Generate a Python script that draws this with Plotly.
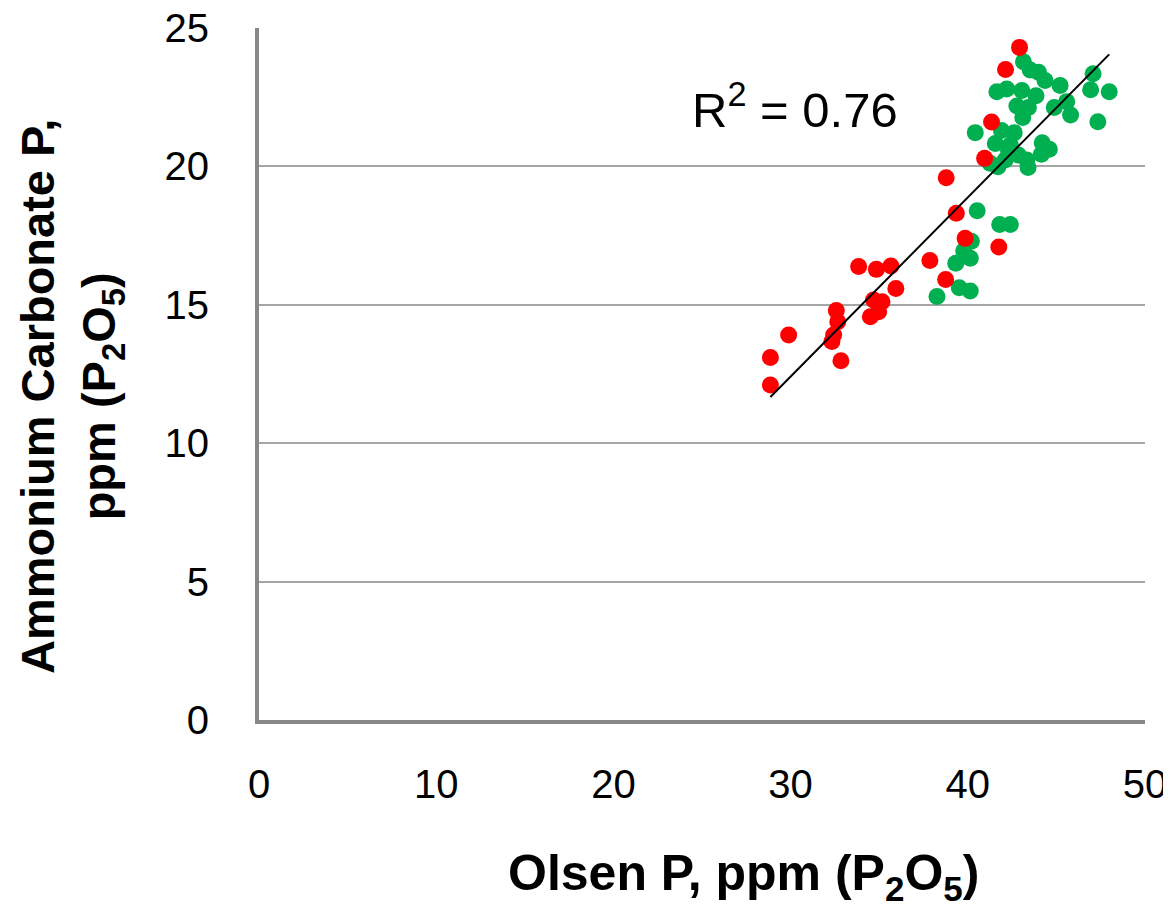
import numpy as np
import plotly.graph_objects as go

# Data
green_x = [43.14, 43.52, 43.99, 44.36, 45.21, 47.07, 46.93, 47.98, 47.34, 41.64,
           42.20, 43.05, 43.85, 42.77, 43.42, 43.10, 44.88, 45.58, 45.80, 40.42,
           41.90, 42.62, 41.55, 42.40, 44.20, 44.60, 44.15, 43.33, 43.40, 41.70,
           42.11, 41.26, 42.30, 42.85, 40.53, 41.80, 42.40, 40.20, 39.77, 40.14,
           39.32, 39.52, 40.14, 38.26]
green_y = [23.78, 23.48, 23.40, 23.10, 22.92, 23.35, 22.77, 22.70, 21.61, 22.70,
           22.80, 22.74, 22.55, 22.18, 22.13, 21.77, 22.13, 22.34, 21.86, 21.22,
           21.30, 21.22, 20.83, 20.77, 20.85, 20.62, 20.44, 20.23, 19.96, 19.99,
           20.23, 20.11, 20.55, 20.41, 18.40, 17.90, 17.90, 17.30, 16.95, 16.68,
           16.50, 15.62, 15.50, 15.30]

red_x = [42.92, 42.13, 41.34, 40.95, 38.78, 39.35, 39.85, 41.75, 37.86, 33.84,
         34.84, 35.66, 35.94, 38.75, 35.16, 34.68, 34.97, 34.50, 32.58, 32.66,
         32.43, 32.33, 29.89, 28.86, 32.84, 28.86]
red_y = [24.30, 23.50, 21.60, 20.29, 19.59, 18.31, 17.40, 17.09, 16.60, 16.38,
         16.28, 16.40, 15.59, 15.91, 15.11, 15.17, 14.75, 14.57, 14.79, 14.39,
         13.91, 13.67, 13.91, 13.10, 12.98, 12.10]

x_ticks = [0, 10, 20, 30, 40, 50]
y_ticks = [0, 5, 10, 15, 20, 25]
r2_label = "R<sup>2</sup> = 0.76"

# Linear trendline over all points
all_x = np.array(green_x + red_x)
all_y = np.array(green_y + red_y)
slope, intercept = np.polyfit(all_x, all_y, 1)
line_x = np.array([all_x.min(), all_x.max()])
line_y = slope * line_x + intercept

FONT = "Liberation Sans, Arial, sans-serif"

# page has an 8px body margin; figure sized to fit the 1171x910 window
W, H = 1163, 902
L, R, T, B = 251, 26, 20, 190
plot_w = W - L - R
plot_h = H - T - B

fig = go.Figure()
fig.add_trace(go.Scatter(x=green_x, y=green_y, mode="markers",
                         marker=dict(color="#00B050", size=17, line=dict(width=0)),
                         showlegend=False))
fig.add_trace(go.Scatter(x=red_x, y=red_y, mode="markers",
                         marker=dict(color="#FF0000", size=17, line=dict(width=0)),
                         showlegend=False))
fig.add_trace(go.Scatter(x=line_x, y=line_y, mode="lines",
                         line=dict(color="black", width=2), showlegend=False))

fig.update_layout(
    width=W, height=H,
    margin=dict(l=L, r=R, t=T, b=B),
    plot_bgcolor="white", paper_bgcolor="white",
    font=dict(family=FONT, color="black", size=40),
    xaxis=dict(range=[0, 50], tickvals=x_ticks, showgrid=False, zeroline=False,
               showline=True, linecolor="#878787", linewidth=4, automargin=False,
               ticks="", ticklabelstandoff=26, ticklabeloverflow="allow",
               tickfont=dict(size=40, family=FONT, color="black")),
    yaxis=dict(range=[0, 25], tickvals=y_ticks, showgrid=True,
               gridcolor="#A6A6A6", gridwidth=2, zeroline=False,
               showline=True, linecolor="#878787", linewidth=4, automargin=False,
               ticks="", ticklabelstandoff=38, ticklabeloverflow="allow",
               tickfont=dict(size=40, family=FONT, color="black")),
    annotations=[
        dict(text=r2_label, x=24.3, y=22.2, xref="x", yref="y",
             xanchor="left", yanchor="middle", showarrow=False,
             font=dict(size=49, family=FONT, color="black")),
        dict(text="<b>Olsen P, ppm (P<sub>2</sub>O<sub>5</sub>)</b>",
             x=(735 - L) / plot_w, y=-(868 - (H - B)) / plot_h,
             xref="paper", yref="paper", xanchor="center", yanchor="middle",
             showarrow=False,
             font=dict(size=50, family=FONT, color="black")),
        dict(text="<b>Ammonium Carbonate P,<br>ppm (P<sub>2</sub>O<sub>5</sub>)</b>",
             x=-(L - 63) / plot_w, y=((H - B) - 389) / plot_h,
             xref="paper", yref="paper", xanchor="center", yanchor="middle",
             showarrow=False, textangle=-90,
             font=dict(size=47, family=FONT, color="black")),
    ],
)

fig.write_html("out.html")
